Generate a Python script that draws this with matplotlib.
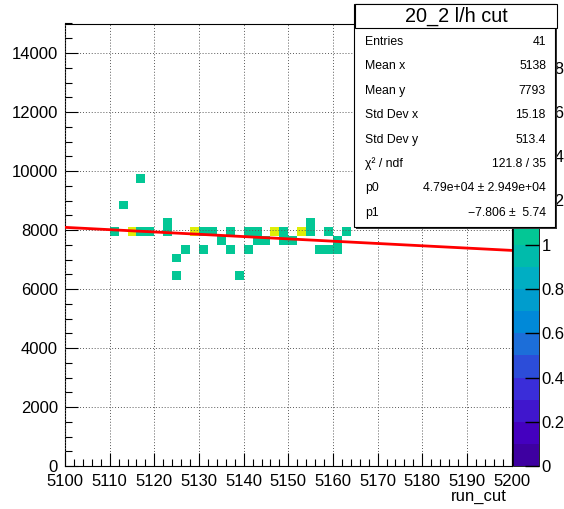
import numpy as np
import matplotlib
matplotlib.use("Agg")
import matplotlib.pyplot as plt
from matplotlib.colors import LinearSegmentedColormap, ListedColormap, Normalize
from matplotlib.patches import Rectangle
from matplotlib.ticker import MultipleLocator

plt.rcParams['font.family'] = ['Liberation Sans', 'DejaVu Sans']

# filled cells of the 2D histogram (bin centres, counts)
cell_x = [5111, 5115, 5117, 5119, 5123, 5129, 5131, 5133, 5137, 5141, 5143, 5147, 5149, 5153, 5155, 5159, 5163,
          5123, 5155,
          5135, 5143, 5145, 5149, 5151, 5161,
          5127, 5131, 5137, 5141, 5157, 5159, 5161,
          5125,
          5125, 5139,
          5113,
          5117]
cell_y = [7950] * 17 + [8250] * 2 + [7650] * 6 + [7350] * 7 + [7050] + [6450] * 2 + [8850] + [9750]
cell_n = [1, 2, 1, 1, 1, 2, 1, 1, 1, 1, 1, 2, 1, 2, 1, 1, 1,
          1, 1,
          1, 1, 1, 1, 1, 1,
          1, 1, 1, 1, 1, 1, 1,
          1,
          1, 1,
          1,
          1]

# linear fit
p0 = 4.79e4
p1 = -7.806

title = "20_2 l/h cut"
stat_names = ["Entries", "Mean x", "Mean y", "Std Dev x", "Std Dev y", "χ² / ndf", "p0", "p1"]
stat_values = ["41", "5138", "7793", "15.18", "513.4", "121.8 / 35",
               "4.79e+04 ± 2.949e+04", "−7.806 ±  5.74"]

x_edges = np.linspace(5100, 5200, 51)
y_edges = np.linspace(0, 15000, 51)

hist, _, _ = np.histogram2d(cell_x, cell_y, bins=[x_edges, y_edges], weights=cell_n)
hist = np.ma.masked_equal(hist.T, 0)

# palette, 20 levels from 0 to 2
base = LinearSegmentedColormap.from_list("pal", [
    (0.00, (0.23, 0.00, 0.58)),
    (0.08, (0.27, 0.00, 0.76)),
    (0.17, (0.23, 0.17, 0.85)),
    (0.27, (0.12, 0.42, 0.85)),
    (0.32, (0.00, 0.53, 0.85)),
    (0.42, (0.00, 0.68, 0.77)),
    (0.52, (0.00, 0.78, 0.59)),
    (0.75, (0.45, 0.85, 0.30)),
    (1.00, (0.92, 0.94, 0.00)),
])
cmap = ListedColormap([base((i + 0.5) / 20) for i in range(20)])

W, H = 564, 509
fig = plt.figure(figsize=(W / 100, H / 100), dpi=100)

ax = fig.add_axes([65 / W, 1 - 466 / H, (511.6 - 65) / W, (466 - 23.5) / H])
cax = fig.add_axes([513 / W, 1 - 466 / H, 26 / W, (466 - 23.5) / H])

mesh = ax.pcolormesh(x_edges, y_edges, hist, cmap=cmap, norm=Normalize(0, 2), zorder=1)

fx = np.linspace(5100, 5200, 101)
ax.plot(fx, p0 + p1 * fx, color='red', lw=2, zorder=4)

ax.set_xlim(5100, 5200)
ax.set_ylim(0, 15000)
ax.xaxis.set_major_locator(MultipleLocator(10))
ax.xaxis.set_minor_locator(MultipleLocator(2))
ax.yaxis.set_major_locator(MultipleLocator(2000))
ax.yaxis.set_minor_locator(MultipleLocator(500))
ax.tick_params(which='both', direction='in', top=False, right=False, width=0.8, labelsize=12)
ax.tick_params(which='major', length=9.5)
ax.tick_params(which='minor', length=4.7)
ax.tick_params(axis='x', pad=6)
ax.tick_params(axis='y', pad=5)
ax.set_axisbelow(False)
ax.grid(True, which='major', linestyle=(0, (1, 2)), color='0.35', lw=0.7)
for s in ax.spines.values():
    s.set_linewidth(0.8)

cb = fig.colorbar(mesh, cax=cax)
cb.set_ticks(np.arange(0, 2.01, 0.2))
cb.set_ticklabels(["0", "0.2", "0.4", "0.6", "0.8", "1", "1.2", "1.4", "1.6", "1.8", "2"])
cax.tick_params(direction='in', length=10, width=1, labelsize=12, pad=2)
cb.outline.set_linewidth(0.6)

fig.text(507 / W, 1 - 497 / H, "run_cut", ha='right', va='center', fontsize=12)

# stats box
def px(x, y):
    return x / W, 1 - y / H

fig.add_artist(Rectangle(px(356, 229), 201 / W, 223 / H, transform=fig.transFigure,
                         facecolor='0.2', edgecolor='none', zorder=5))
fig.add_artist(Rectangle(px(354, 227), 201 / W, 223 / H, transform=fig.transFigure,
                         facecolor='white', edgecolor='black', lw=0.8, zorder=6))
fig.add_artist(Rectangle(px(355, 28), 202 / W, 24 / H, transform=fig.transFigure,
                         facecolor='white', edgecolor='black', lw=0.8, zorder=7))
fig.text(456 / W, 1 - 16 / H, title, ha='center', va='center', fontsize=14.3, zorder=8)

for i, (name, val) in enumerate(zip(stat_names, stat_values)):
    yy = 1 - (42 + i * 24.4) / H
    fig.text(365 / W, yy, name, ha='left', va='center', fontsize=8.8, zorder=8)
    fig.text(546 / W, yy, val, ha='right', va='center', fontsize=8.8, zorder=8)

fig.savefig("out.png", dpi=100)
